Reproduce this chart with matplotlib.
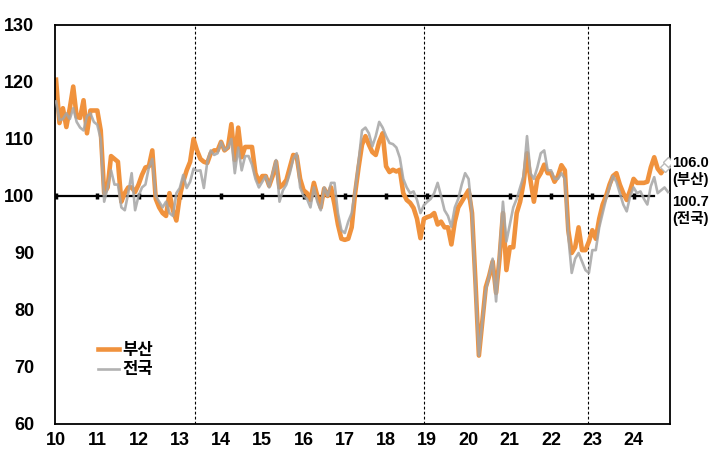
import numpy as np
import matplotlib
matplotlib.use("Agg")
import matplotlib.pyplot as plt
import matplotlib.transforms as mtransforms

plt.rcParams['font.family'] = ['Liberation Sans', 'Noto Sans CJK KR']
plt.rcParams['font.weight'] = 'bold'

# monthly index, Jan 2010 .. Nov 2024
busan = [
    # 2010
    120.4, 112.8, 115.4, 112.1, 115.4, 119.2, 113.9, 113.7, 116.8, 111.0, 115.0, 115.0,
    # 2011
    115.0, 111.5, 100.5, 101.5, 107.0, 106.5, 106.0, 99.0, 100.5, 101.5, 101.5, 100.7,
    # 2012
    102.0, 103.7, 105.0, 105.2, 108.0, 99.5, 98.0, 97.0, 96.5, 100.5, 97.5, 95.7,
    # 2013
    100.0, 102.5, 104.5, 106.0, 110.0, 108.0, 106.5, 106.0, 105.8, 107.5, 108.0, 108.0,
    # 2014
    109.5, 108.0, 108.5, 112.6, 106.3, 112.0, 106.8, 108.6, 108.6, 108.6, 104.0, 102.5,
    # 2015
    103.5, 103.5, 101.8, 103.5, 106.0, 101.5, 102.0, 102.8, 105.0, 107.2, 107.0, 103.0,
    # 2016
    101.0, 100.5, 99.3, 102.3, 100.0, 98.0, 101.3, 100.0, 101.5, 98.5, 95.0, 92.5,
    # 2017
    92.3, 92.5, 94.5, 100.5, 105.0, 109.0, 110.5, 109.0, 107.7, 107.2, 109.5, 111.0,
    # 2018
    105.2, 104.2, 104.6, 104.3, 104.6, 100.5, 99.3, 98.8, 97.9, 96.0, 92.6, 96.0,
    # 2019
    96.3, 96.5, 97.0, 95.0, 95.5, 94.5, 94.5, 91.5, 95.5, 98.0, 99.0, 100.0,
    # 2020
    101.0, 97.0, 85.0, 72.0, 78.0, 84.0, 86.0, 88.5, 83.0, 89.0, 97.0, 87.0,
    # 2021
    91.0, 91.0, 97.0, 99.0, 102.3, 107.5, 102.8, 99.0, 103.0, 104.0, 105.5, 104.0,
    # 2022
    104.0, 102.5, 103.5, 105.4, 104.5, 94.0, 90.0, 91.0, 94.5, 90.5, 90.5, 92.0,
    # 2023
    94.0, 92.5, 96.0, 98.5, 100.0, 102.0, 103.5, 104.0, 102.0, 100.5, 99.3, 101.0,
    # 2024
    103.0, 102.3, 102.3, 102.3, 102.5, 105.0, 106.8, 104.8, 104.0, 105.0, 106.0,
]
nation = [
    # 2010
    116.6, 113.3, 113.5, 114.5, 113.5, 115.4, 113.0, 112.0, 111.5, 114.0, 114.5, 113.0,
    # 2011
    112.5, 110.0, 99.0, 101.5, 104.5, 102.0, 102.0, 98.0, 97.5, 100.5, 104.0, 97.5,
    # 2012
    100.0, 101.5, 102.0, 105.0, 106.5, 100.0, 99.0, 98.0, 99.0, 97.0, 96.5, 100.5,
    # 2013
    101.4, 103.7, 101.4, 102.5, 104.8, 104.4, 104.5, 101.4, 106.0, 108.0, 107.2, 107.5,
    # 2014
    109.5, 108.0, 108.5, 110.0, 104.0, 108.5, 104.5, 107.0, 107.0, 105.5, 103.0, 101.5,
    # 2015
    102.5, 103.5, 101.5, 104.0, 106.3, 99.0, 101.0, 102.0, 104.0, 106.5, 107.5, 101.5,
    # 2016
    100.0, 99.5, 98.0, 101.5, 99.0, 97.5, 101.5, 100.0, 102.3, 102.3, 97.0, 94.0,
    # 2017
    93.5, 95.5, 97.0, 101.0, 106.0, 111.5, 112.0, 111.0, 108.7, 110.5, 113.0, 112.0,
    # 2018
    110.5, 109.3, 109.1, 108.5, 106.7, 103.0, 101.5, 100.5, 100.8, 99.3, 97.0, 98.4,
    # 2019
    99.0, 99.5, 100.5, 102.3, 100.0, 97.5, 96.5, 94.6, 98.0, 99.5, 102.0, 104.0,
    # 2020
    103.0, 97.0, 84.0, 72.0, 78.0, 83.5, 86.0, 89.0, 81.5, 90.0, 99.0, 92.0,
    # 2021
    95.0, 98.0, 99.5, 101.5, 103.5, 110.5, 104.0, 103.0, 105.0, 107.5, 108.0, 104.5,
    # 2022
    104.5, 103.0, 103.0, 104.0, 103.0, 93.0, 86.5, 89.0, 90.0, 88.5, 87.0, 86.5,
    # 2023
    90.5, 90.5, 94.5, 97.0, 99.5, 101.5, 103.5, 102.5, 100.5, 98.5, 97.3, 100.0,
    # 2024
    101.5, 100.5, 100.8, 99.5, 98.5, 101.7, 103.3, 100.5, 101.0, 101.5, 100.7,
]
year_labels = ['10', '11', '12', '13', '14', '15', '16', '17', '18', '19', '20', '21', '22', '23', '24']
baseline = [100] * 175
event_months = [40.5, 107, 154.7]

months = np.arange(len(busan))
orange = '#F0923D'
gray = '#A5A5A5'

fig = plt.figure(figsize=(7.2, 4.69), dpi=100)
ax = fig.add_axes([0.0764, 0.096, 0.8542, 0.8507])

ax.plot(np.arange(len(baseline)), baseline, color='black', lw=1.6,
        marker='|', markersize=5, mew=2.5, markevery=12, zorder=1)
for m in event_months:
    ax.axvline(m, color='black', lw=0.8, ls=(0, (2.5, 2)), zorder=1)

ax.plot(months, busan, color=orange, lw=3.3, label='부산', zorder=2)
ax.plot(months, nation, color=gray, lw=1.9, alpha=0.85, label='전국', zorder=3)
ax.plot(months[-2:], busan[-2:], ls='none', marker='D', markersize=5,
        mfc='white', mec='#BBBBBB', mew=1, zorder=4)

trans = mtransforms.blended_transform_factory(ax.transAxes, ax.transData)
ax.text(1.004, busan[-1] + 1.0, f"{busan[-1]:.1f}\n(부산)", transform=trans,
        ha='left', va='top', fontsize=10.5, fontweight='bold', linespacing=1.15)
ax.text(1.004, nation[-1] - 0.6, f"{nation[-1]:.1f}\n(전국)", transform=trans,
        ha='left', va='top', fontsize=10.5, fontweight='bold', linespacing=1.15)

ax.set_xlim(-0.3, 178.6)
ax.set_ylim(60, 130)
ax.set_yticks(range(60, 131, 10))
ax.set_xticks(np.arange(0, 180, 12))
ax.set_xticklabels(year_labels)
ax.tick_params(axis='y', length=0, pad=15, labelsize=13)
ax.tick_params(axis='x', length=0, pad=6, labelsize=13)
for s in ax.spines.values():
    s.set_linewidth(1.3)
    s.set_color('black')

leg = ax.legend(loc='upper left', bbox_to_anchor=(0.045, 0.24), frameon=False,
                handlelength=1.3, handletextpad=0.2, labelspacing=0.25,
                prop={'size': 12, 'weight': 'bold'})

fig.savefig('out.png', dpi=100)
